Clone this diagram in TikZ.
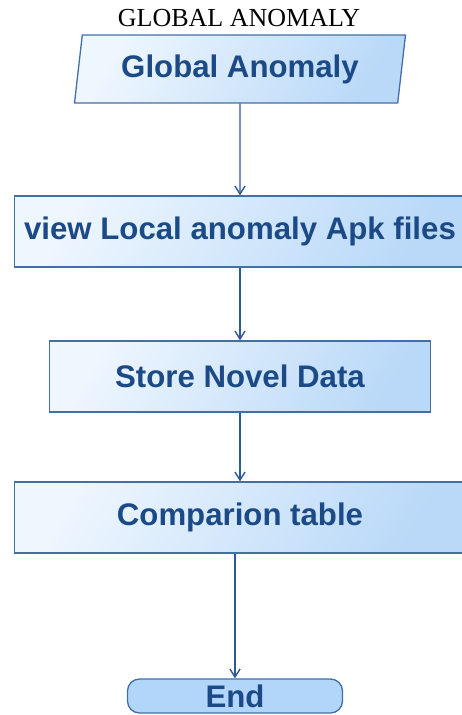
\documentclass[tikz,border=0pt]{standalone}
\usepackage{fontspec}
\setmainfont{Liberation Serif}
\newfontfamily\flowfont{Liberation Sans}
\usepackage{tikz}
\usetikzlibrary{
  arrows.meta,
  shapes.geometric
}
\definecolor{edgeblue}{RGB}{66,112,166}
\definecolor{textblue}{RGB}{27,74,134}
\definecolor{flowblue}{RGB}{44,88,148}
\definecolor{paleblue}{RGB}{238,246,254}
\definecolor{skyblue}{RGB}{186,217,248}
\definecolor{endblue}{RGB}{178,214,250}
\tikzset{
  stepbox/.style={draw=edgeblue,line width=1.3pt,left color=paleblue,right color=skyblue,
    shading angle=60,align=center,inner sep=0pt,
    font=\flowfont\bfseries\fontsize{31.2}{35}\selectfont,text=textblue},
  iobox/.style={stepbox,trapezium,trapezium left angle=75,
    trapezium right angle=105,trapezium stretches body},
  endbox/.style={draw=edgeblue,line width=1.3pt,fill=endblue,rounded corners=12pt,
    minimum width=215pt,minimum height=34pt,inner sep=0pt,
    font=\flowfont\bfseries\fontsize{31.2}{35}\selectfont,text=textblue},
  flow/.style={-{Straight Barb[length=8pt,width=10pt]},line width=1.4pt,draw=flowblue},
  heading/.style={font=\fontsize{26}{30}\selectfont,inner sep=0pt}
}

\begin{document}
\begin{tikzpicture}[x=1pt,y=-1pt]
  \useasboundingbox (0,0) rectangle (462,715);
  \node[heading,anchor=base] (title) at (239,26) {GLOBAL ANOMALY};
  \node[iobox,minimum width=331pt,minimum height=68pt] (global) at (240,69)
    {Global Anomaly};
  \node[stepbox,minimum width=451pt,minimum height=71pt] (view) at (240,231.5)
    {view Local anomaly Apk files};
  \node[stepbox,minimum width=381pt,minimum height=71pt] (store) at (240,376.5)
    {Store Novel Data};
  \node[stepbox,minimum width=451pt,minimum height=71pt] (compare) at (240,517.5)
    {Comparion table};
  \node[endbox] (end) at (235,696) {End};
  \draw[flow] (global)--(view);
  \draw[flow] (view)--(store);
  \draw[flow] (store)--(compare);
  \draw[flow] (compare.south -| end)--(end);
\end{tikzpicture}
\end{document}
